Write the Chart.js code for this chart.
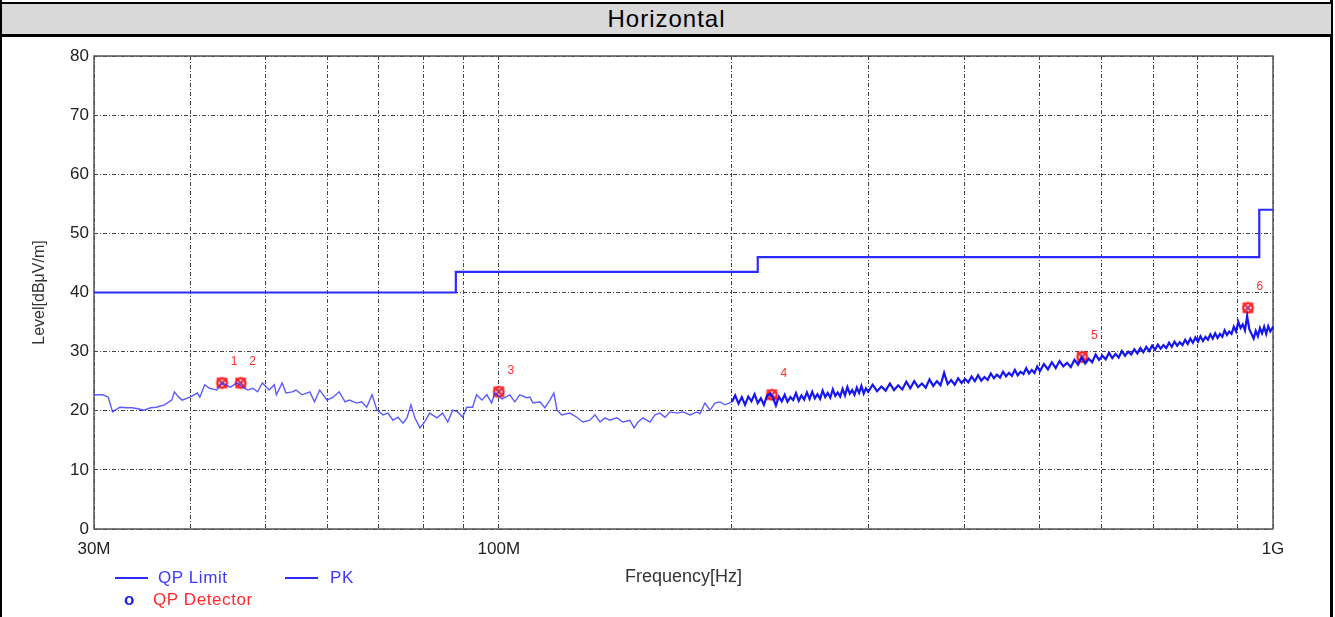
<!DOCTYPE html>
<html>
<head>
<meta charset="utf-8">
<script src="https://cdn.jsdelivr.net/npm/chart.js@4/dist/chart.umd.min.js"></script>
<style>
  body { margin: 0; background: #fff; font-family: Arial, "Liberation Sans", sans-serif; }
  #page { position: relative; width: 1335px; height: 617px; overflow: hidden; }
  #frame { position: absolute; left: 0; top: 0; width: 1333px; height: 640px; box-sizing: border-box;
           border-left: 2px solid #000; border-right: 3px solid #000; }
  #title { position: absolute; left: 0; top: 2px; width: 1333px; height: 35px; box-sizing: border-box;
           background: #d9d9d9; border: 2px solid #000; border-bottom-width: 3px;
           text-align: center; font-size: 24px; letter-spacing: 1px; line-height: 30px; color: #000; }
  #chart-box { position: absolute; left: 0; top: 36px; width: 1335px; height: 581px; }
  .leg { position: absolute; font-size: 17px; letter-spacing: 0.6px; line-height: 18px; white-space: nowrap; }
  .leg-line { position: absolute; height: 2px; background: #2b2bff; }
</style>
</head>
<body>
<div id="page">
  <div id="frame"></div>
  <div id="title">Horizontal</div>
  <div id="chart-box"><canvas id="emi-chart" width="1335" height="581"></canvas></div>

  <div class="leg-line" style="left:115px; top:577px; width:33px;"></div>
  <div class="leg" style="left:158px; top:569px; color:#3a3aff;">QP Limit</div>
  <div class="leg-line" style="left:285px; top:577px; width:33px;"></div>
  <div class="leg" style="left:330px; top:569px; color:#3a3aff;">PK</div>
  <div class="leg" style="left:124px; top:591px; color:#2020e0; font-weight:bold;">o</div>
  <div class="leg" style="left:153px; top:591px; color:#ff2a2a;">QP Detector</div>
</div>

<script>
// frequency in MHz, level in dBuV/m

// QP limit (stepped)
const limitFreq = [30, 88, 216, 960, 1000];
const limitLevel = [40, 43.5, 46, 54, 54];

// peak scan trace
const pkFreq = [
  30.0, 30.8, 31.3, 31.7, 32.4, 33.1, 33.6, 34.3, 34.8, 35.5, 36.1, 37.0, 37.8, 38.1, 38.6, 39.0,
  39.9, 40.8, 41.1, 41.7, 42.3, 43.2, 43.9, 45.0, 45.9, 46.7, 47.4, 48.1, 48.8, 49.5, 50.5, 51.3,
  51.6, 52.5, 53.1, 54.1, 54.7, 55.7, 57.0, 57.8, 58.7, 60.0, 61.1, 62.2, 63.3, 64.1, 65.5, 66.5,
  67.5, 68.6, 69.6, 70.9, 71.9, 73.0, 74.1, 75.2, 76.1, 77.0, 77.9, 79.1, 80.2, 81.4, 83.2, 84.6,
  85.9, 87.2, 88.5, 89.8, 90.9, 92.5, 93.6, 95.1, 96.5, 97.9, 98.8, 100.3, 101.0, 103.3, 104.9, 106.4,
  108.7, 109.7, 110.7, 113.0, 114.7, 116.4, 117.8, 118.9, 120.6, 123.5, 126.1, 128.4, 131.1, 133.1, 135.1, 137.1,
  139.1, 142.1, 144.6, 147.7, 149.5, 151.3, 153.5, 156.8, 159.1, 161.5, 163.9, 166.4, 169.9, 172.9, 176.6, 180.3,
  181.9, 184.6, 187.4, 190.2, 193.0, 195.9,
  200, 202, 204, 206, 208, 210, 212, 214, 216, 218, 220, 222, 224, 226, 228, 230,
  232, 234, 236, 238, 240, 242, 244, 246, 248, 250, 252, 254, 256, 258, 260, 262,
  264, 266, 268, 270, 272, 274, 276, 278, 280, 282, 284, 286, 288, 290, 292, 294,
  296, 298,
  300, 304, 308, 312, 316, 320, 324, 328, 332, 336, 340, 344, 348, 352, 356, 360,
  364, 368, 372, 376, 380, 384, 388, 392, 396, 400, 404, 408, 412, 416, 420, 424,
  428, 432, 436, 440, 444, 448, 452, 456, 460, 464, 468, 472, 476, 480, 484, 488,
  492, 496,
  500, 506, 512, 518, 524, 530, 536, 542, 548, 554, 560, 566, 572, 578, 584, 590,
  596, 602, 608, 614, 620, 626, 632, 638, 644, 650, 656, 662, 668, 674, 680, 686,
  692, 698, 704, 710, 716, 722, 728, 734, 740, 746, 752, 758, 764, 770, 776, 782,
  788, 794, 800, 806, 812, 818, 824, 830, 836, 842, 848, 854, 860, 866, 872, 878,
  884, 890, 896, 902, 908, 914, 920, 926, 932, 938, 944, 950, 956, 962, 968, 974,
  980, 986, 992, 998, 1000
];
const pkLevel = [
  22.7, 22.7, 22.3, 19.8, 20.6, 20.5, 20.5, 20.3, 20.1, 20.5, 20.6, 21.0, 21.8, 23.2, 22.3, 21.8,
  22.3, 23.0, 22.3, 24.4, 23.8, 23.5, 24.7, 24.0, 24.7, 24.0, 23.5, 23.8, 23.2, 24.7, 23.5, 24.4,
  22.7, 24.7, 23.0, 23.2, 23.5, 22.7, 23.2, 21.5, 23.5, 21.8, 22.3, 23.2, 21.5, 21.8, 21.3, 21.5,
  20.6, 22.7, 20.1, 19.3, 19.6, 18.4, 18.9, 17.9, 18.8, 21.0, 18.8, 17.1, 18.1, 19.6, 18.8, 19.6,
  18.1, 20.1, 19.8, 18.9, 20.6, 20.6, 22.7, 21.8, 22.7, 21.3, 23.0, 22.3, 22.0, 22.7, 21.5, 22.7,
  22.2, 22.3, 21.3, 21.5, 20.5, 21.8, 23.0, 20.1, 19.3, 19.6, 18.9, 18.1, 18.4, 19.3, 18.1, 18.8,
  18.4, 18.8, 18.1, 18.4, 17.1, 18.1, 18.8, 18.1, 19.3, 19.6, 18.9, 19.8, 19.6, 19.8, 19.3, 19.8,
  19.5, 21.3, 20.1, 21.3, 21.5, 21.0,
  21.5, 22.6, 21.2, 22.3, 21.0, 22.4, 21.6, 22.8, 21.3, 22.1, 21.0, 22.5, 22.9, 22.2, 20.9, 22.4,
  21.6, 22.7, 21.5, 22.3, 21.8, 23.0, 21.7, 22.6, 21.9, 23.1, 22.0, 23.2, 22.1, 22.8, 22.0, 23.4,
  22.3, 23.0, 22.2, 23.6, 22.5, 23.1, 22.4, 23.7, 22.6, 24.0, 22.9, 23.5, 22.7, 23.9, 23.0, 24.2,
  22.9, 23.8,
  23.2, 24.4, 23.3, 24.1, 23.4, 24.6, 23.5, 24.3, 23.6, 24.9, 23.8, 25.0, 24.0, 24.6, 23.9, 25.3,
  24.2, 25.0, 24.3, 26.4, 24.5, 25.2, 24.4, 25.5, 24.7, 25.4, 24.8, 25.8, 25.0, 26.0, 25.1, 25.7,
  25.2, 26.3, 25.5, 26.1, 25.6, 26.6, 25.8, 26.4, 25.9, 26.9, 26.0, 26.6, 26.2, 27.2, 26.3, 26.9,
  26.4, 27.5,
  26.7, 27.9, 27.0, 28.2, 27.2, 28.4, 27.5, 28.1, 27.4, 28.6, 27.8, 29.0, 28.0, 28.8, 28.2, 29.5,
  28.6, 29.3, 28.7, 29.8, 28.9, 29.6, 29.0, 30.1, 29.3, 30.0, 29.5, 30.4, 29.7, 30.6, 29.9, 30.8,
  30.1, 31.0, 30.3, 31.2, 30.5, 31.1, 30.6, 31.5, 30.8, 31.7, 31.0, 31.6, 31.1, 32.0, 31.3, 32.2,
  31.5, 32.4, 31.7, 32.6, 31.8, 32.5, 32.0, 32.9, 32.2, 33.1, 32.3, 33.0, 32.5, 33.6, 32.8, 33.4,
  33.0, 34.2, 33.4, 35.0, 34.0, 34.6, 33.6, 36.0, 33.8, 33.0, 32.2, 33.5, 32.6, 34.0, 33.1, 34.2,
  33.0, 34.3, 33.4, 34.0, 33.7
];

// QP detector results
const qpFreq = [43.9, 46.4, 100.0, 225.3, 567.0, 928.0];
const qpLevel = [24.7, 24.7, 23.2, 22.7, 29.1, 37.4];
const qpLabels = ['1', '2', '3', '4', '5', '6'];

// axis
const gridFreq = [30, 40, 50, 60, 70, 80, 90, 100, 200, 300, 400, 500, 600, 700, 800, 900, 1000];
const freqLabels = { 30: '30M', 100: '100M', 1000: '1G' };
const levelMin = 0;
const levelMax = 80;

function toPoints(xs, ys) {
  return xs.map((x, i) => ({ x: x, y: ys[i] }));
}

// red circle + cross marker
function makeQpMarker() {
  const c = document.createElement('canvas');
  c.width = 15;
  c.height = 15;
  const g = c.getContext('2d');
  g.strokeStyle = '#ff2222';
  g.lineWidth = 2.4;
  g.beginPath();
  g.arc(7.5, 7.5, 4.8, 0, Math.PI * 2);
  g.stroke();
  g.beginPath();
  g.moveTo(2.5, 2.5); g.lineTo(12.5, 12.5);
  g.moveTo(12.5, 2.5); g.lineTo(2.5, 12.5);
  g.stroke();
  g.strokeStyle = '#5050ff';
  g.lineWidth = 1;
  g.beginPath();
  g.moveTo(5.5, 5.5); g.lineTo(9.5, 9.5);
  g.moveTo(9.5, 5.5); g.lineTo(5.5, 9.5);
  g.stroke();
  return c;
}

// frame around plot area
const plotFrame = {
  id: 'plotFrame',
  beforeDatasetsDraw(chart) {
    const a = chart.chartArea;
    const ctx = chart.ctx;
    ctx.save();
    ctx.strokeStyle = '#555';
    ctx.lineWidth = 1.5;
    ctx.strokeRect(a.left, a.top, a.right - a.left, a.bottom - a.top);
    ctx.restore();
  }
};

// marker numbers
const markerNumbers = {
  id: 'markerNumbers',
  afterDatasetsDraw(chart) {
    const meta = chart.getDatasetMeta(2);
    const ctx = chart.ctx;
    ctx.save();
    ctx.fillStyle = '#ff3030';
    ctx.font = '12px Arial, "Liberation Sans"';
    ctx.textAlign = 'center';
    ctx.textBaseline = 'middle';
    meta.data.forEach((pt, i) => {
      ctx.fillText(qpLabels[i], pt.x + 12, pt.y - 21);
    });
    ctx.restore();
  }
};

function createChart() {
  const ctx = document.getElementById('emi-chart').getContext('2d');
  const tickFont = { family: 'Arial, "Liberation Sans"', size: 17 };

  new Chart(ctx, {
    type: 'line',
    data: {
      datasets: [
        {
          label: 'QP Limit',
          data: toPoints(limitFreq, limitLevel),
          borderColor: '#2b2bff',
          borderWidth: 2.2,
          stepped: 'before',
          pointRadius: 0,
          fill: false
        },
        {
          label: 'PK',
          data: toPoints(pkFreq, pkLevel),
          borderColor: 'rgba(50, 50, 255, 0.8)',
          borderWidth: 1.4,
          pointRadius: 0,
          tension: 0,
          fill: false,
          // denser scan above 200 MHz looks heavier
          segment: {
            borderColor: (s) => s.p0.parsed.x >= 198 ? 'rgba(10, 10, 240, 0.95)' : undefined,
            borderWidth: (s) => s.p0.parsed.x >= 198 ? 2.2 : undefined
          }
        },
        {
          label: 'QP Detector',
          data: toPoints(qpFreq, qpLevel),
          showLine: false,
          pointStyle: makeQpMarker(),
          pointRadius: 7
        }
      ]
    },
    options: {
      responsive: false,
      animation: false,
      events: [],
      layout: { padding: { top: 20, right: 62, left: 0, bottom: 0 } },
      plugins: {
        legend: { display: false },
        tooltip: { enabled: false }
      },
      scales: {
        x: {
          type: 'logarithmic',
          min: 30,
          max: 1000,
          afterFit: (scale) => { scale.height = 88; },
          afterBuildTicks: (scale) => { scale.ticks = gridFreq.map(v => ({ value: v })); },
          ticks: {
            autoSkip: false,
            maxRotation: 0,
            padding: 10,
            color: '#222',
            font: tickFont,
            callback: (v) => freqLabels[v] || ''
          },
          grid: { color: '#444', lineWidth: 1, drawTicks: false },
          border: { display: false, dash: [4, 2, 1, 2] },
          title: {
            display: true,
            text: 'Frequency[Hz]',
            color: '#333',
            font: { family: 'Arial, "Liberation Sans"', size: 18 },
            padding: { top: 0, bottom: 29 }
          }
        },
        y: {
          min: levelMin,
          max: levelMax,
          afterFit: (scale) => { scale.width = 94; },
          ticks: {
            stepSize: 10,
            padding: 5,
            color: '#222',
            font: tickFont
          },
          grid: { color: '#444', lineWidth: 1, drawTicks: false },
          border: { display: false, dash: [4, 2, 1, 2] },
          title: {
            display: true,
            text: 'Level[dBμV/m]',
            color: '#333',
            font: { family: 'Arial, "Liberation Sans"', size: 16 },
            padding: { top: 30, bottom: 0 }
          }
        }
      }
    },
    plugins: [plotFrame, markerNumbers]
  });
}

document.addEventListener('DOMContentLoaded', createChart);
</script>
</body>
</html>
